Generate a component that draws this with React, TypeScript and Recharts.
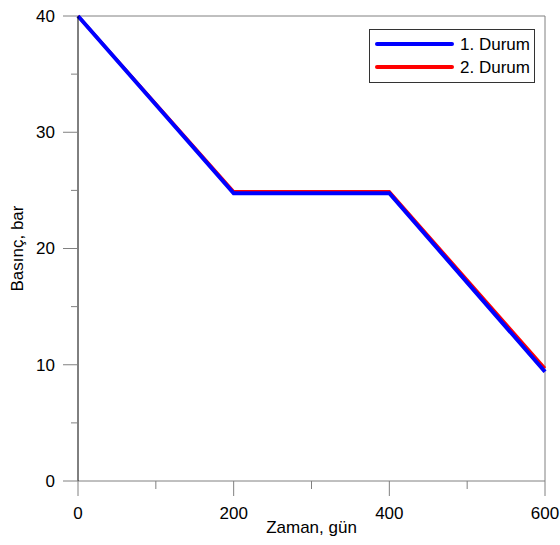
import { LineChart, Line, XAxis, YAxis, ReferenceLine } from 'recharts'

const days = [0, 200, 400, 600]
const durum1 = [40, 24.75, 24.75, 9.4]
const durum2 = [40, 24.9, 24.9, 9.7]

const xTicks = [0, 100, 200, 300, 400, 500, 600]
const xLabels = [0, 200, 400, 600]
const yTicks = [0, 5, 10, 15, 20, 25, 30, 35, 40]
const yLabels = [0, 10, 20, 30, 40]

const seriesNames = ['1. Durum', '2. Durum']
const seriesColors = ['#0000ff', '#ff0000']

const data = days.map((d, i) => ({ day: d, d1: durum1[i], d2: durum2[i] }))

const FONT = '"Liberation Sans", Arial, sans-serif'
const GRAY = '#808080'

const XTick = ({ x, y, payload }: any) => {
  const major = xLabels.includes(payload.value)
  return (
    <g>
      <line x1={x} x2={x} y1={y} y2={y + (major ? 15 : 8)} stroke={GRAY} strokeWidth={1} />
      {major && (
        <text x={x} y={y + 38} textAnchor="middle" fontSize={17} fontFamily={FONT} fill="#000">
          {payload.value}
        </text>
      )}
    </g>
  )
}

const YTick = ({ x, y, payload }: any) => {
  const major = yLabels.includes(payload.value)
  return (
    <g>
      <line x1={x - (major ? 15 : 7)} x2={x} y1={y} y2={y} stroke={GRAY} strokeWidth={1} />
      {major && (
        <text x={x - 23} y={y} dy="0.35em" textAnchor="end" fontSize={17} fontFamily={FONT} fill="#000">
          {payload.value}
        </text>
      )}
    </g>
  )
}

// legend drawn outside recharts so it doesn't eat plot space
const LegendBox = () => (
  <div
    style={{
      position: 'absolute',
      left: 369,
      top: 29,
      width: 166,
      height: 54,
      border: '1px solid #333',
      boxSizing: 'border-box',
      background: '#fff',
    }}
  >
    <svg width={164} height={52} style={{ display: 'block' }}>
      {seriesNames.map((name, i) => (
        <g key={name}>
          <line x1={7} x2={82} y1={14 + i * 23} y2={14 + i * 23} stroke={seriesColors[i]} strokeWidth={4} strokeLinecap="round" />
          <text x={90} y={14 + i * 23} dy="0.35em" fontSize={17} fontFamily={FONT} fill="#000">
            {name}
          </text>
        </g>
      ))}
    </svg>
  </div>
)

export default function App() {
  return (
    <div style={{ position: 'absolute', left: 0, top: 0, width: 560, height: 545, background: '#fff' }}>
      <LineChart width={560} height={545} data={data} margin={{ top: 16, right: 15, left: 0, bottom: 0 }}>
        <XAxis
          dataKey="day"
          type="number"
          domain={[0, 600]}
          ticks={xTicks}
          interval={0}
          height={64}
          tickSize={0}
          tickMargin={0}
          tickLine={false}
          axisLine={{ stroke: GRAY }}
          tick={<XTick />}
          label={{
            content: ({ viewBox }: any) => (
              <text x={viewBox.x + viewBox.width / 2} y={viewBox.y + 52} textAnchor="middle" fontSize={17} fontFamily={FONT} fill="#000">
                Zaman, gün
              </text>
            ),
          }}
        />
        <YAxis
          type="number"
          domain={[0, 40]}
          ticks={yTicks}
          interval={0}
          width={78}
          tickSize={0}
          tickMargin={0}
          tickLine={false}
          axisLine={{ stroke: '#000' }}
          tick={<YTick />}
          label={{
            content: ({ viewBox }: any) => {
              const cx = 17
              const cy = viewBox.y + viewBox.height / 2
              return (
                <text x={cx} y={cy} dy="0.35em" transform={`rotate(-90 ${cx} ${cy})`} textAnchor="middle" fontSize={17} fontFamily={FONT} fill="#000">
                  Basınç, bar
                </text>
              )
            },
          }}
        />
        <ReferenceLine y={40} stroke={GRAY} strokeWidth={1} />
        <ReferenceLine x={600} stroke={GRAY} strokeWidth={1} />
        <Line type="linear" dataKey="d2" name={seriesNames[1]} stroke={seriesColors[1]} strokeWidth={3} dot={false} isAnimationActive={false} />
        <Line type="linear" dataKey="d1" name={seriesNames[0]} stroke={seriesColors[0]} strokeWidth={4} dot={false} isAnimationActive={false} />
      </LineChart>
      <LegendBox />
    </div>
  )
}
